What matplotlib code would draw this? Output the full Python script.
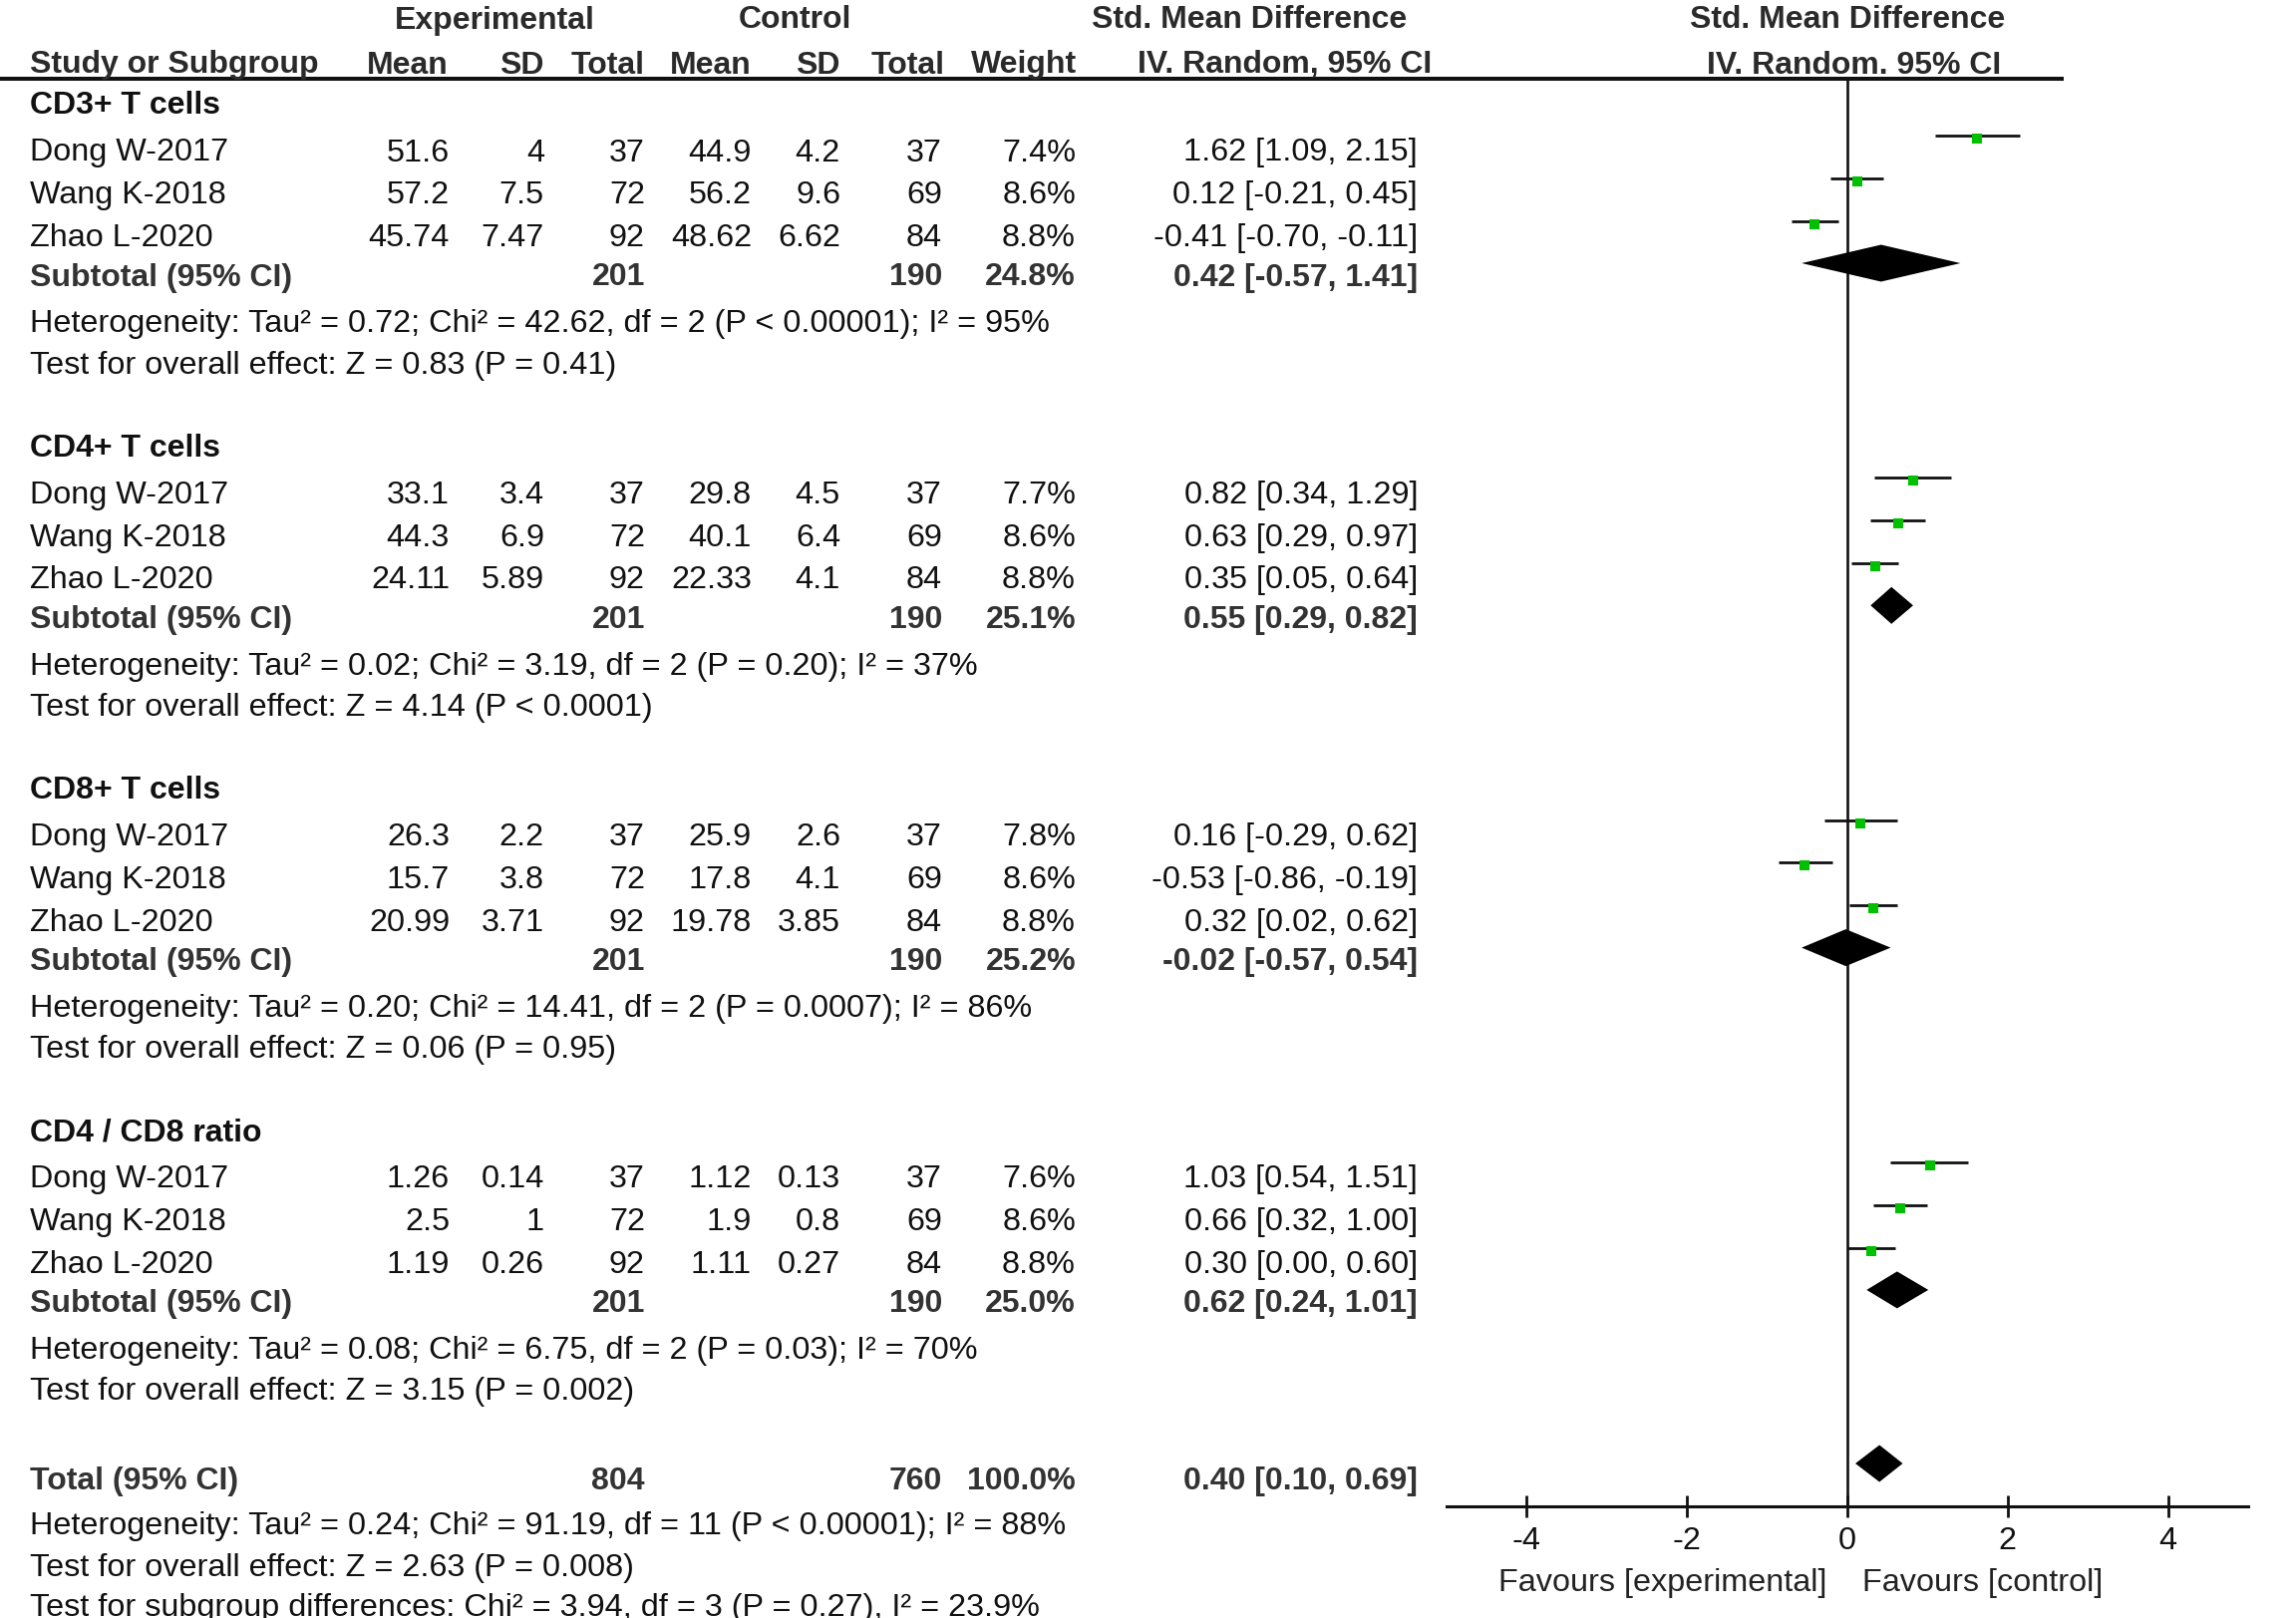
import matplotlib
matplotlib.use("Agg")
import matplotlib.pyplot as plt

plt.rcParams['font.family'] = ['Liberation Sans', 'DejaVu Sans']

# ---------------- data ----------------
groups = ["CD3+ T cells", "CD4+ T cells", "CD8+ T cells", "CD4 / CD8 ratio"]
studies = ["Dong W-2017", "Wang K-2018", "Zhao L-2020"]
exp_mean = [["51.6", "57.2", "45.74"], ["33.1", "44.3", "24.11"],
            ["26.3", "15.7", "20.99"], ["1.26", "2.5", "1.19"]]
exp_sd = [["4", "7.5", "7.47"], ["3.4", "6.9", "5.89"],
          ["2.2", "3.8", "3.71"], ["0.14", "1", "0.26"]]
exp_n = [37, 72, 92]
ctrl_mean = [["44.9", "56.2", "48.62"], ["29.8", "40.1", "22.33"],
             ["25.9", "17.8", "19.78"], ["1.12", "1.9", "1.11"]]
ctrl_sd = [["4.2", "9.6", "6.62"], ["4.5", "6.4", "4.1"],
           ["2.6", "4.1", "3.85"], ["0.13", "0.8", "0.27"]]
ctrl_n = [37, 69, 84]
weights = [[7.4, 8.6, 8.8], [7.7, 8.6, 8.8], [7.8, 8.6, 8.8], [7.6, 8.6, 8.8]]
smd = [[1.62, 0.12, -0.41], [0.82, 0.63, 0.35], [0.16, -0.53, 0.32], [1.03, 0.66, 0.30]]
ci_lo = [[1.09, -0.21, -0.70], [0.34, 0.29, 0.05], [-0.29, -0.86, 0.02], [0.54, 0.32, 0.00]]
ci_hi = [[2.15, 0.45, -0.11], [1.29, 0.97, 0.64], [0.62, -0.19, 0.62], [1.51, 1.00, 0.60]]
sub_exp_n = [201, 201, 201, 201]
sub_ctrl_n = [190, 190, 190, 190]
sub_weight = [24.8, 25.1, 25.2, 25.0]
sub_smd = [0.42, 0.55, -0.02, 0.62]
sub_lo = [-0.57, 0.29, -0.57, 0.24]
sub_hi = [1.41, 0.82, 0.54, 1.01]
het_text = [
    "Heterogeneity: Tau² = 0.72; Chi² = 42.62, df = 2 (P < 0.00001); I² = 95%",
    "Heterogeneity: Tau² = 0.02; Chi² = 3.19, df = 2 (P = 0.20); I² = 37%",
    "Heterogeneity: Tau² = 0.20; Chi² = 14.41, df = 2 (P = 0.0007); I² = 86%",
    "Heterogeneity: Tau² = 0.08; Chi² = 6.75, df = 2 (P = 0.03); I² = 70%",
]
effect_text = [
    "Test for overall effect: Z = 0.83 (P = 0.41)",
    "Test for overall effect: Z = 4.14 (P < 0.0001)",
    "Test for overall effect: Z = 0.06 (P = 0.95)",
    "Test for overall effect: Z = 3.15 (P = 0.002)",
]
total_exp_n = 804
total_ctrl_n = 760
total_weight = 100.0
total_smd = 0.40
total_lo = 0.10
total_hi = 0.69
total_het = "Heterogeneity: Tau² = 0.24; Chi² = 91.19, df = 11 (P < 0.00001); I² = 88%"
total_effect = "Test for overall effect: Z = 2.63 (P = 0.008)"
subgroup_text = "Test for subgroup differences: Chi² = 3.94, df = 3 (P = 0.27), I² = 23.9%"
tick_values = [-4, -2, 0, 2, 4]
tick_labels = ["-4", "-2", "0", "2", "4"]
favours_left = "Favours [experimental]"
favours_right = "Favours [control]"

# ---------------- layout (pixels) ----------------
W, H = 2303, 1624
fig = plt.figure(figsize=(W / 100, H / 100), dpi=100)
fig.patch.set_facecolor("white")

ax = fig.add_axes([0, 0, 1, 1])
ax.set_xlim(0, W)
ax.set_ylim(H, 0)
ax.axis("off")

FS = 23.3
FSB = 23.0
TXT = "#111111"
BTXT = "#222222"
BASE = 11.5  # center -> baseline offset


def t(x, yc, s, ha="left", bold=False, color=None):
    ax.text(x, yc + BASE, s, ha=ha, va="baseline",
            fontsize=FSB if bold else FS,
            fontweight="bold" if bold else "normal",
            color=color if color else (BTXT if bold else TXT))


X_NAME = 30
X_EM, X_ES, X_EN = 451, 546, 647
X_CM, X_CS, X_CN = 754, 843, 945
X_W, X_CI = 1079, 1422

# headers
HC = "#2a2a2a"
t(496, 17, "Experimental", ha="center", bold=True, color=HC)
t(797, 17, "Control", ha="center", bold=True, color=HC)
t(1253, 17, "Std. Mean Difference", ha="center", bold=True, color=HC)
t(1853, 17, "Std. Mean Difference", ha="center", bold=True, color=HC)
t(X_NAME, 62, "Study or Subgroup", bold=True, color=HC)
for x, s in [(450, "Mean"), (546, "SD"), (647, "Total"), (754, "Mean"),
             (843, "SD"), (948, "Total"), (1080, "Weight"),
             (1436, "IV. Random, 95% CI")]:
    t(x, 62, s, ha="right", bold=True, color=HC)
t(1860, 62, "IV. Random. 95% CI", ha="center", bold=True, color=HC)
ax.plot([0, 2070], [80, 80], color="#111111", lw=2.9, solid_capstyle="butt")

# forest axes: x in effect units, y in pixel rows
AX_L, AX_R, AX_Y = 1451, 2255, 1512
fa = fig.add_axes([AX_L / W, (H - AX_Y) / H, (AX_R - AX_L) / W, AX_Y / H])
fa.set_xlim(-5, 5)
fa.set_ylim(AX_Y, 0)
fa.patch.set_alpha(0)
for sp in ["top", "left", "right"]:
    fa.spines[sp].set_visible(False)
fa.spines["bottom"].set_linewidth(2.2)
fa.spines["bottom"].set_color("#111111")
fa.set_yticks([])
fa.set_xticks(tick_values)
fa.set_xticklabels(tick_labels)
fa.tick_params(axis="x", direction="inout", length=16, width=2.0,
               color="#111111", labelsize=FS, labelcolor=TXT, pad=6)
fa.axvline(0, ymin=0, ymax=1 - 80 / AX_Y, color="#111111", lw=1.9)

GREEN = "#00c000"
HALF_D = 18.5

for g, gname in enumerate(groups):
    y0 = 103 + 343.3 * g
    t(X_NAME, y0, gname, bold=True, color="#111111")
    for i, sname in enumerate(studies):
        y = y0 + 47 + 42.8 * i
        t(X_NAME, y, sname)
        t(X_EM, y, exp_mean[g][i], ha="right")
        t(X_ES, y, exp_sd[g][i], ha="right")
        t(X_EN, y, str(exp_n[i]), ha="right")
        t(X_CM, y, ctrl_mean[g][i], ha="right")
        t(X_CS, y, ctrl_sd[g][i], ha="right")
        t(X_CN, y, str(ctrl_n[i]), ha="right")
        t(X_W, y, f"{weights[g][i]:.1f}%", ha="right")
        t(X_CI, y, f"{smd[g][i]:.2f} [{ci_lo[g][i]:.2f}, {ci_hi[g][i]:.2f}]", ha="right")
        fa.plot([ci_lo[g][i], ci_hi[g][i]], [y - 13, y - 13], color="#111111",
                lw=2.0, solid_capstyle="butt", zorder=3)
        fa.plot([smd[g][i]], [y - 10], marker="s", ms=6.5, color=GREEN,
                markeredgewidth=0, zorder=4)
    ys = y0 + 172
    t(X_NAME, ys, "Subtotal (95% CI)", bold=True, color="#333333")
    t(X_EN, ys, str(sub_exp_n[g]), ha="right", bold=True, color="#333333")
    t(X_CN, ys, str(sub_ctrl_n[g]), ha="right", bold=True, color="#333333")
    t(X_W, ys, f"{sub_weight[g]:.1f}%", ha="right", bold=True, color="#333333")
    t(X_CI, ys, f"{sub_smd[g]:.2f} [{sub_lo[g]:.2f}, {sub_hi[g]:.2f}]", ha="right",
      bold=True, color="#333333")
    yd = ys - 10
    fa.fill([sub_lo[g], sub_smd[g], sub_hi[g], sub_smd[g]],
            [yd, yd - HALF_D, yd, yd + HALF_D], color="black", lw=0, zorder=4)
    t(X_NAME, y0 + 219, het_text[g])
    t(X_NAME, y0 + 260, effect_text[g])

# total
yt = 1483
t(X_NAME, yt, "Total (95% CI)", bold=True, color="#333333")
t(X_EN, yt, str(total_exp_n), ha="right", bold=True, color="#333333")
t(X_CN, yt, str(total_ctrl_n), ha="right", bold=True, color="#333333")
t(X_W, yt, f"{total_weight:.1f}%", ha="right", bold=True, color="#333333")
t(X_CI, yt, f"{total_smd:.2f} [{total_lo:.2f}, {total_hi:.2f}]", ha="right",
  bold=True, color="#333333")
yd = yt - 14
fa.fill([total_lo, total_smd, total_hi, total_smd],
        [yd, yd - HALF_D, yd, yd + HALF_D], color="black", lw=0, zorder=4)
t(X_NAME, 1528, total_het)
t(X_NAME, 1570, total_effect)
t(X_NAME, 1610, subgroup_text)

t(1832, 1585, favours_left, ha="right", color="#222222")
t(1868, 1585, favours_right, ha="left", color="#222222")

fig.savefig("out.png", dpi=100, facecolor="white")
